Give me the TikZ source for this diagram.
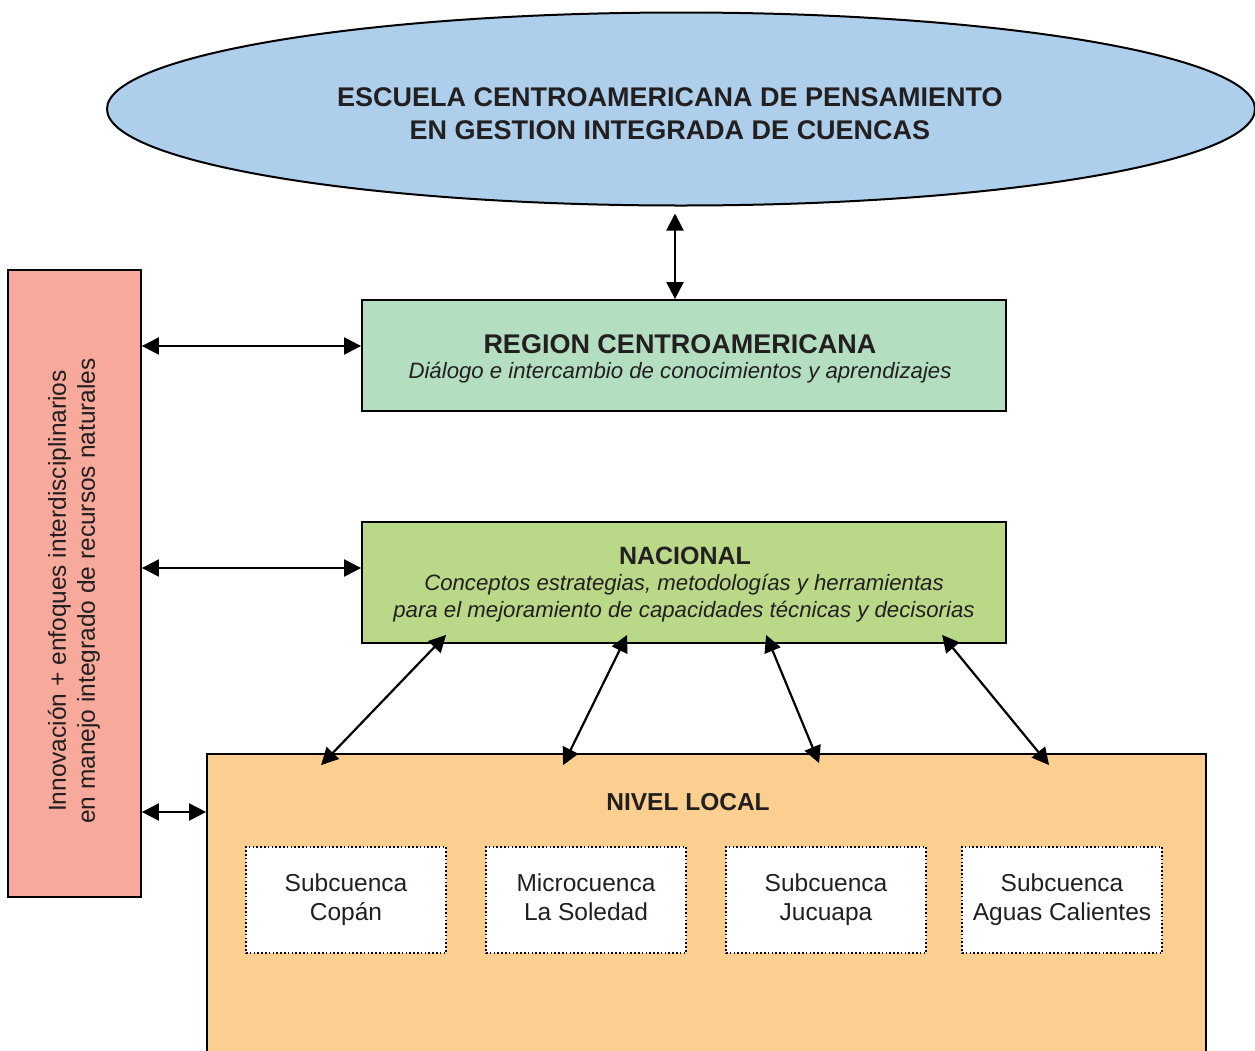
\documentclass[tikz,border=0pt]{standalone}
\usepackage{fontspec}
\setmainfont{Liberation Sans}
\usetikzlibrary{arrows.meta,shapes.geometric,calc}

\definecolor{inktext}{HTML}{231F20}
\definecolor{skyfill}{HTML}{ADCFEC}
\definecolor{regionfill}{HTML}{B3DEC0}
\definecolor{nacfill}{HTML}{B9D989}
\definecolor{localfill}{HTML}{FBCF8F}
\definecolor{pinkfill}{HTML}{F7A99C}

\tikzset{
  levelbox/.style={draw=black, line width=1.8pt, inner sep=0pt},
  unitbox/.style={draw=black, fill=white, line width=2.4pt, dash pattern=on 1.6pt off 2.2pt,
    minimum width=200pt, minimum height=106pt, inner sep=0pt, align=center,
    font=\fontsize{24.5}{29}\selectfont, text=inktext},
  headtxt/.style={font=\fontsize{24.5}{29}\selectfont\bfseries, text=inktext, inner sep=0pt},
  subtxt/.style={font=\fontsize{22.2}{27}\selectfont\itshape, text=inktext, inner sep=0pt, align=center},
  dbl/.style={line width=2.2pt, {Triangle[length=17pt,width=17pt]}-{Triangle[length=17pt,width=17pt]}},
}

\begin{document}
\begin{tikzpicture}[x=1pt,y=-1pt]
\useasboundingbox (0,0) rectangle (1255,1050);

% top ellipse
\node[ellipse, draw=black, line width=2pt, fill=skyfill, minimum width=1148pt,
      minimum height=193pt, inner sep=0pt] (school) at (681,109) {};
\node[font=\fontsize{27}{33}\selectfont\bfseries, text=inktext, align=center, inner sep=0pt]
  (schooltxt) at (670,114) {ESCUELA CENTROAMERICANA DE PENSAMIENTO\\EN GESTION INTEGRADA DE CUENCAS};

% side column
\node[levelbox, fill=pinkfill, minimum width=133pt, minimum height=627pt] (side) at (74.5,583.5) {};
\node[rotate=90, align=center, inner sep=0pt, text=inktext, font=\fontsize{24.5}{29}\selectfont]
  (sidetxt) at (74,591) {Innovación + enfoques interdisciplinarios\\en manejo integrado de recursos naturales};

% regional level
\node[levelbox, fill=regionfill, minimum width=644pt, minimum height=111pt] (region) at (684,355.5) {};
\node[headtxt, font=\fontsize{27}{29}\selectfont\bfseries] (regionhead) at (680,344) {REGION CENTROAMERICANA};
\node[subtxt] (regionsub) at (680,373) {Diálogo e intercambio de conocimientos y aprendizajes};

% national level
\node[levelbox, fill=nacfill, minimum width=644pt, minimum height=121pt] (nac) at (684,582.5) {};
\node[headtxt, font=\fontsize{25}{29}\selectfont\bfseries] (nachead) at (685,556) {NACIONAL};
\node[subtxt] (nacsub) at (684,598) {Conceptos estrategias, metodologías y herramientas\\para el mejoramiento de capacidades técnicas y decisorias};

% local level
\node[levelbox, fill=localfill, minimum width=999pt, minimum height=320pt] (local) at (706.5,914) {};
\node[headtxt] (localhead) at (688,802) {NIVEL LOCAL};

\node[unitbox] (copan) at (346,900) {Subcuenca\\Copán\vphantom{p}};
\node[unitbox] (soledad) at (586,900) {Microcuenca\\La Soledad\vphantom{p}};
\node[unitbox] (jucuapa) at (826,900) {Subcuenca\\Jucuapa\vphantom{p}};
\node[unitbox] (aguas) at (1062,900) {Subcuenca\\Aguas Calientes\vphantom{p}};

% connectors
\draw[dbl] ($(school.south)+(-6,7)$) -- ($(region.north)+(-9,0)$);
\draw[dbl] (side.east |- 0,346) -- (region.west |- 0,346);
\draw[dbl] (side.east |- 0,568) -- (nac.west |- 0,568);
\draw[dbl] (side.east |- 0,812) -- (local.west |- 0,812);

\draw[dbl] ($(nac.south west)+(85,-9)$) -- ($(local.north west)+(115,12)$);
\draw[dbl] ($(nac.south west)+(266,-9)$) -- ($(local.north west)+(357,12)$);
\draw[dbl] ($(nac.south west)+(405,-9)$) -- ($(local.north west)+(613,10)$);
\draw[dbl] ($(nac.south west)+(581,-9)$) -- ($(local.north west)+(843,12)$);
\end{tikzpicture}
\end{document}
